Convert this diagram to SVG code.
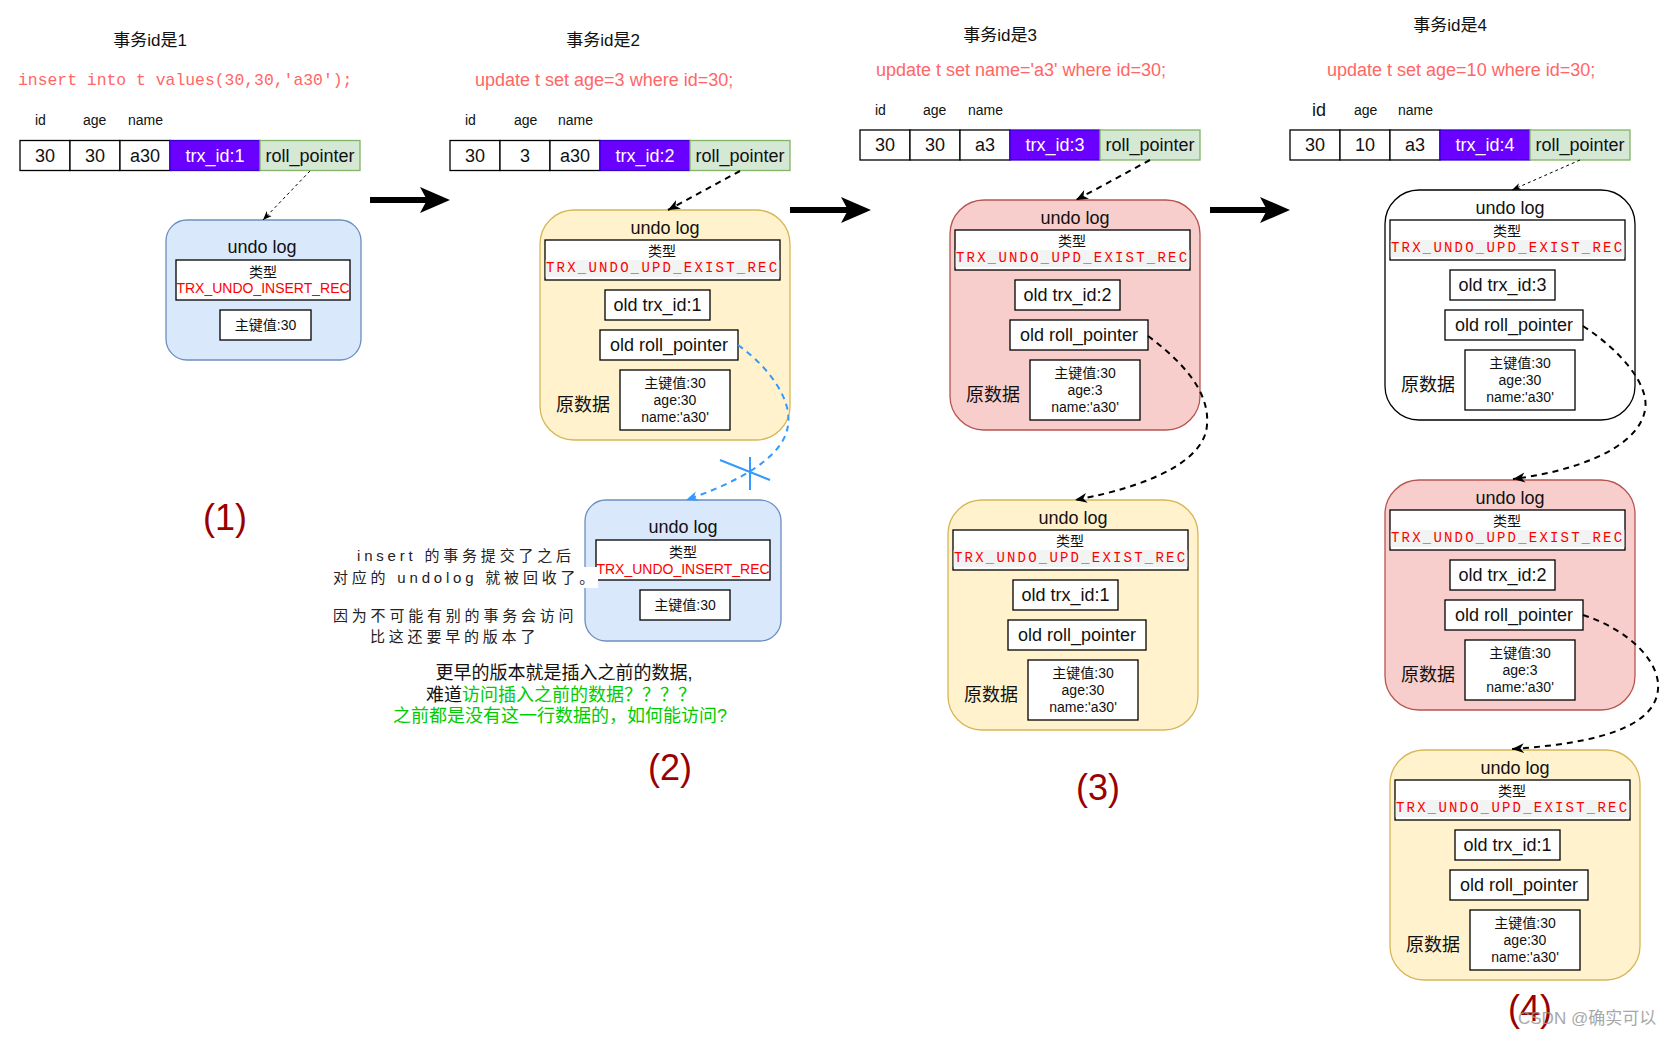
<svg xmlns="http://www.w3.org/2000/svg" width="1670" height="1037" viewBox="0 0 1670 1037">
<style>
text{font-family:"Liberation Sans","Noto Sans CJK SC",sans-serif;fill:#111}
.m{text-anchor:middle;dominant-baseline:central}
.l{dominant-baseline:central}
.f13{font-size:13px}.f14{font-size:14px}.f17{font-size:17px}.f18{font-size:18px}
.sql{font-size:18px;fill:#ff6666}
.mono{font-family:"Liberation Mono",monospace;font-size:16.4px;fill:#ff6666}
.cell{fill:#fff;stroke:#000;stroke-width:1.3}
.trx{fill:#6a00ff;stroke:#3700cc;stroke-width:1.3}
.roll{fill:#d5e8d4;stroke:#82b366;stroke-width:1.3}
.wt{fill:#fff}
.ub{fill:#dae8fc;stroke:#6c8ebf;stroke-width:1.3}
.uy{fill:#fff2cc;stroke:#d6b656;stroke-width:1.3}
.ur{fill:#f8cecc;stroke:#b85450;stroke-width:1.3}
.uw{fill:#fff;stroke:#000;stroke-width:1.3}
.wb{fill:#fff;stroke:#000;stroke-width:1.3}
.band{fill:#f2f3f3}
.rec{font-family:"Liberation Mono",monospace;font-size:14px;fill:#ff0000;letter-spacing:2.2px}
.ins{font-size:14px;fill:#ff0000}
.num{font-size:36px;fill:#990000}
.note{font-size:15px;letter-spacing:3.8px;fill:#222}
.g{fill:#00cc00}
.dash{fill:none;stroke:#000;stroke-width:2;stroke-dasharray:6 5}
.dthin{fill:none;stroke:#000;stroke-width:1;stroke-dasharray:3 3}
.blue{fill:none;stroke:#3399ff;stroke-width:2;stroke-dasharray:6 5}
.big{fill:#000}
</style>
<defs>
<marker id="ah" markerUnits="userSpaceOnUse" viewBox="0 0 14 12" markerWidth="14" markerHeight="12" refX="12" refY="6" orient="auto"><path d="M0,1 L12,6 L0,11 L3.5,6 z" fill="#000"/></marker>
<marker id="ahs" markerUnits="userSpaceOnUse" viewBox="0 0 10 8" markerWidth="10" markerHeight="8" refX="9" refY="4" orient="auto"><path d="M0,0.5 L9,4 L0,7.5 L2.5,4 z" fill="#000"/></marker>
<marker id="ahb" markerUnits="userSpaceOnUse" viewBox="0 0 14 12" markerWidth="14" markerHeight="12" refX="12" refY="6" orient="auto"><path d="M0,1 L12,6 L0,11 L3.5,6 z" fill="#3399ff"/></marker>
</defs>
<rect width="1670" height="1037" fill="#fff"/>

<!-- Titles and statements -->
<g id="head1">
<text class="m f17" x="150" y="40">事务id是1</text>
<text class="mono l" x="18" y="80">insert into t values(30,30,'a30');</text>
<text class="l f14" x="35" y="120">id</text><text class="l f14" x="83" y="120">age</text><text class="l f14" x="128" y="120">name</text>
</g>
<g id="head2">
<text class="m f17" x="603" y="40">事务id是2</text>
<text class="sql l" x="475" y="80">update t set age=3 where id=30;</text>
<text class="l f14" x="465" y="120">id</text><text class="l f14" x="514" y="120">age</text><text class="l f14" x="558" y="120">name</text>
</g>
<g id="head3">
<text class="m f17" x="1000" y="35">事务id是3</text>
<text class="sql l" x="876" y="70">update t set name='a3' where id=30;</text>
<text class="l f14" x="875" y="110">id</text><text class="l f14" x="923" y="110">age</text><text class="l f14" x="968" y="110">name</text>
</g>
<g id="head4">
<text class="m f17" x="1450" y="25">事务id是4</text>
<text class="sql l" x="1327" y="70">update t set age=10 where id=30;</text>
<text class="l f18" x="1312" y="110">id</text><text class="l f14" x="1354" y="110">age</text><text class="l f14" x="1398" y="110">name</text>
</g>

<!-- Rows -->
<g id="row1" transform="translate(20,140.5)">
<rect class="cell" width="50" height="30"/><rect class="cell" x="50" width="50" height="30"/><rect class="cell" x="100" width="50" height="30"/>
<rect class="trx" x="150" width="90" height="30"/><rect class="roll" x="240" width="100" height="30"/>
<text class="m f18" x="25" y="15">30</text><text class="m f18" x="75" y="15">30</text><text class="m f18" x="125" y="15">a30</text>
<text class="m f18 wt" x="195" y="15">trx_id:1</text><text class="m f18" x="290" y="15">roll_pointer</text>
</g>
<g id="row2" transform="translate(450,140.5)">
<rect class="cell" width="50" height="30"/><rect class="cell" x="50" width="50" height="30"/><rect class="cell" x="100" width="50" height="30"/>
<rect class="trx" x="150" width="90" height="30"/><rect class="roll" x="240" width="100" height="30"/>
<text class="m f18" x="25" y="15">30</text><text class="m f18" x="75" y="15">3</text><text class="m f18" x="125" y="15">a30</text>
<text class="m f18 wt" x="195" y="15">trx_id:2</text><text class="m f18" x="290" y="15">roll_pointer</text>
</g>
<g id="row3" transform="translate(860,130)">
<rect class="cell" width="50" height="30"/><rect class="cell" x="50" width="50" height="30"/><rect class="cell" x="100" width="50" height="30"/>
<rect class="trx" x="150" width="90" height="30"/><rect class="roll" x="240" width="100" height="30"/>
<text class="m f18" x="25" y="15">30</text><text class="m f18" x="75" y="15">30</text><text class="m f18" x="125" y="15">a3</text>
<text class="m f18 wt" x="195" y="15">trx_id:3</text><text class="m f18" x="290" y="15">roll_pointer</text>
</g>
<g id="row4" transform="translate(1290,130)">
<rect class="cell" width="50" height="30"/><rect class="cell" x="50" width="50" height="30"/><rect class="cell" x="100" width="50" height="30"/>
<rect class="trx" x="150" width="90" height="30"/><rect class="roll" x="240" width="100" height="30"/>
<text class="m f18" x="25" y="15">30</text><text class="m f18" x="75" y="15">10</text><text class="m f18" x="125" y="15">a3</text>
<text class="m f18 wt" x="195" y="15">trx_id:4</text><text class="m f18" x="290" y="15">roll_pointer</text>
</g>

<!-- Insert undo logs -->
<g id="undo1" transform="translate(166,220)">
<rect class="ub" width="195" height="140" rx="21"/>
<text class="m f18" x="96" y="27">undo log</text>
<rect class="wb" x="10" y="40" width="174" height="40"/>
<text class="m f14" x="97" y="52">类型</text>
<text class="m ins" x="97" y="68">TRX_UNDO_INSERT_REC</text>
<rect class="wb" x="54" y="90" width="91" height="30"/>
<text class="m f14" x="99.5" y="105">主键值:30</text>
</g>
<g id="undo2b" transform="translate(585,500)">
<rect class="ub" width="196" height="141" rx="21"/>
<text class="m f18" x="98" y="27">undo log</text>
<rect class="wb" x="11" y="40" width="174" height="40"/>
<text class="m f14" x="98" y="52">类型</text>
<text class="m ins" x="98" y="69">TRX_UNDO_INSERT_REC</text>
<rect class="wb" x="55" y="90" width="90" height="30"/>
<text class="m f14" x="100" y="105">主键值:30</text>
</g>

<!-- Update undo logs -->
<g id="undo2" transform="translate(540,210)">
<rect class="uy" width="250" height="230" rx="34"/>
<text class="m f18" x="125" y="18">undo log</text>
<rect class="wb" x="5" y="30" width="235" height="40"/><rect class="band" x="5.7" y="50" width="233.6" height="17"/>
<text class="m f14" x="122" y="41">类型</text>
<text class="rec l" x="6" y="58">TRX_UNDO_UPD_EXIST_REC</text>
<rect class="wb" x="65" y="80" width="105" height="30"/><text class="m f18" x="117.5" y="95">old trx_id:1</text>
<rect class="wb" x="60" y="120" width="138" height="30"/><text class="m f18" x="129" y="135">old roll_pointer</text>
<rect class="wb" x="80" y="160" width="110" height="60"/>
<text class="m f14" x="135" y="173">主键值:30</text><text class="m f14" x="135" y="190">age:30</text><text class="m f14" x="135" y="207">name:'a30'</text>
<text class="m f18" x="43" y="195">原数据</text>
</g>
<g id="undo3a" transform="translate(950,200)">
<rect class="ur" width="250" height="230" rx="34"/>
<text class="m f18" x="125" y="18">undo log</text>
<rect class="wb" x="5" y="30" width="235" height="40"/><rect class="band" x="5.7" y="50" width="233.6" height="17"/>
<text class="m f14" x="122" y="41">类型</text>
<text class="rec l" x="6" y="58">TRX_UNDO_UPD_EXIST_REC</text>
<rect class="wb" x="65" y="80" width="105" height="30"/><text class="m f18" x="117.5" y="95">old trx_id:2</text>
<rect class="wb" x="60" y="120" width="138" height="30"/><text class="m f18" x="129" y="135">old roll_pointer</text>
<rect class="wb" x="80" y="160" width="110" height="60"/>
<text class="m f14" x="135" y="173">主键值:30</text><text class="m f14" x="135" y="190">age:3</text><text class="m f14" x="135" y="207">name:'a30'</text>
<text class="m f18" x="43" y="195">原数据</text>
</g>
<g id="undo3b" transform="translate(948,500)">
<rect class="uy" width="250" height="230" rx="34"/>
<text class="m f18" x="125" y="18">undo log</text>
<rect class="wb" x="5" y="30" width="235" height="40"/><rect class="band" x="5.7" y="50" width="233.6" height="17"/>
<text class="m f14" x="122" y="41">类型</text>
<text class="rec l" x="6" y="58">TRX_UNDO_UPD_EXIST_REC</text>
<rect class="wb" x="65" y="80" width="105" height="30"/><text class="m f18" x="117.5" y="95">old trx_id:1</text>
<rect class="wb" x="60" y="120" width="138" height="30"/><text class="m f18" x="129" y="135">old roll_pointer</text>
<rect class="wb" x="80" y="160" width="110" height="60"/>
<text class="m f14" x="135" y="173">主键值:30</text><text class="m f14" x="135" y="190">age:30</text><text class="m f14" x="135" y="207">name:'a30'</text>
<text class="m f18" x="43" y="195">原数据</text>
</g>
<g id="undo4a" transform="translate(1385,190)">
<rect class="uw" width="250" height="230" rx="34"/>
<text class="m f18" x="125" y="18">undo log</text>
<rect class="wb" x="5" y="30" width="235" height="40"/><rect class="band" x="5.7" y="50" width="233.6" height="17"/>
<text class="m f14" x="122" y="41">类型</text>
<text class="rec l" x="6" y="58">TRX_UNDO_UPD_EXIST_REC</text>
<rect class="wb" x="65" y="80" width="105" height="30"/><text class="m f18" x="117.5" y="95">old trx_id:3</text>
<rect class="wb" x="60" y="120" width="138" height="30"/><text class="m f18" x="129" y="135">old roll_pointer</text>
<rect class="wb" x="80" y="160" width="110" height="60"/>
<text class="m f14" x="135" y="173">主键值:30</text><text class="m f14" x="135" y="190">age:30</text><text class="m f14" x="135" y="207">name:'a30'</text>
<text class="m f18" x="43" y="195">原数据</text>
</g>
<g id="undo4b" transform="translate(1385,480)">
<rect class="ur" width="250" height="230" rx="34"/>
<text class="m f18" x="125" y="18">undo log</text>
<rect class="wb" x="5" y="30" width="235" height="40"/><rect class="band" x="5.7" y="50" width="233.6" height="17"/>
<text class="m f14" x="122" y="41">类型</text>
<text class="rec l" x="6" y="58">TRX_UNDO_UPD_EXIST_REC</text>
<rect class="wb" x="65" y="80" width="105" height="30"/><text class="m f18" x="117.5" y="95">old trx_id:2</text>
<rect class="wb" x="60" y="120" width="138" height="30"/><text class="m f18" x="129" y="135">old roll_pointer</text>
<rect class="wb" x="80" y="160" width="110" height="60"/>
<text class="m f14" x="135" y="173">主键值:30</text><text class="m f14" x="135" y="190">age:3</text><text class="m f14" x="135" y="207">name:'a30'</text>
<text class="m f18" x="43" y="195">原数据</text>
</g>
<g id="undo4c" transform="translate(1390,750)">
<rect class="uy" width="250" height="230" rx="34"/>
<text class="m f18" x="125" y="18">undo log</text>
<rect class="wb" x="5" y="30" width="235" height="40"/><rect class="band" x="5.7" y="50" width="233.6" height="17"/>
<text class="m f14" x="122" y="41">类型</text>
<text class="rec l" x="6" y="58">TRX_UNDO_UPD_EXIST_REC</text>
<rect class="wb" x="65" y="80" width="105" height="30"/><text class="m f18" x="117.5" y="95">old trx_id:1</text>
<rect class="wb" x="60" y="120" width="138" height="30"/><text class="m f18" x="129" y="135">old roll_pointer</text>
<rect class="wb" x="80" y="160" width="110" height="60"/>
<text class="m f14" x="135" y="173">主键值:30</text><text class="m f14" x="135" y="190">age:30</text><text class="m f14" x="135" y="207">name:'a30'</text>
<text class="m f18" x="43" y="195">原数据</text>
</g>

<!-- Notes -->
<g id="note-left">
<rect x="560" y="567" width="38" height="21" fill="#fff"/>
<text class="note l" x="357" y="555">insert 的事务提交了之后</text>
<text class="note l" x="333" y="577">对应的 undolog 就被回收了。</text>
<text class="note l" x="333" y="615">因为不可能有别的事务会访问</text>
<text class="note l" x="370" y="636">比这还要早的版本了</text>
</g>
<g id="note-bottom">
<text class="m f18" x="564" y="673">更早的版本就是插入之前的数据,</text>
<text class="m f18" x="561" y="695">难道<tspan class="g">访问插入之前的数据？？？？</tspan></text>
<text class="m f18 g" x="560" y="716">之前都是没有这一行数据的，如何能访问?</text>
</g>
<g id="labels">
<text class="m num" x="225" y="517">(1)</text>
<text class="m num" x="670" y="767">(2)</text>
<text class="m num" x="1098" y="787">(3)</text>
<text class="m num" x="1530" y="1008">(4)</text>
<text class="l" x="1518" y="1018" style="font-size:17px;fill:#999;opacity:0.85">CSDN @确实可以</text>
</g>

<!-- Connectors -->
<g id="connectors">
<path class="dthin" d="M310,171 L263,220" marker-end="url(#ahs)"/>
<path class="dash" d="M740,171 L668,210" marker-end="url(#ah)"/>
<path class="dash" d="M1150,160 L1076,200" marker-end="url(#ah)"/>
<path class="dthin" d="M1580,160 L1512,190" marker-end="url(#ahs)"/>
<path class="blue" d="M738,345 C770,368 792,400 788,425 C784,460 730,485 686,500" marker-end="url(#ahb)"/>
<path d="M750,457 L750,490 M720,460 L770,480" stroke="#3399ff" stroke-width="2" fill="none"/>
<path class="dash" d="M1148,336 C1180,360 1210,390 1207,425 C1204,470 1120,492 1075,500" marker-end="url(#ah)"/>
<path class="dash" d="M1583,326 C1620,350 1650,385 1645,410 C1638,450 1570,472 1513,479" marker-end="url(#ah)"/>
<path class="dash" d="M1583,615 C1630,630 1665,665 1657,695 C1648,735 1570,745 1512,749" marker-end="url(#ah)"/>
<rect class="big" x="370" y="197" width="58" height="6"/>
<path class="big" d="M450,200 L420,187 L427,200 L420,213 Z"/>
<rect class="big" x="790" y="207" width="59" height="6"/>
<path class="big" d="M871,210 L841,197 L848,210 L841,223 Z"/>
<rect class="big" x="1210" y="207" width="58" height="6"/>
<path class="big" d="M1290,210 L1260,197 L1267,210 L1260,223 Z"/>
</g>
</svg>
